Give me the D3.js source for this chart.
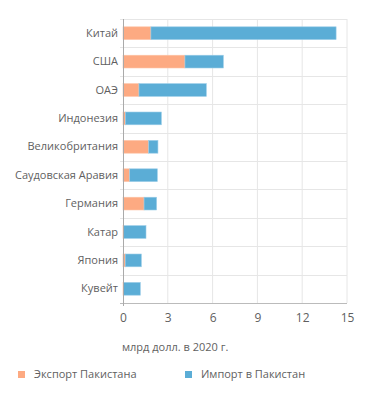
<!DOCTYPE html>
<html>
<head>
<meta charset="utf-8">
<script src="https://cdn.jsdelivr.net/npm/d3@7"></script>
<style>
  body { margin: 0; background: #fff; }
  text { font-family: "Open Sans", sans-serif; fill: #5f5f5f; }
</style>
</head>
<body>
<script>
var countries = ["Китай", "США", "ОАЭ", "Индонезия", "Великобритания",
                 "Саудовская Аравия", "Германия", "Катар", "Япония", "Кувейт"];
var exports = [1.87, 4.15, 1.07, 0.16, 1.72, 0.45, 1.41, 0.05, 0.15, 0.03];
var imports = [12.4, 2.57, 4.51, 2.41, 0.62, 1.85, 0.84, 1.49, 1.08, 1.13];
var ticks = [0, 3, 6, 9, 12, 15];
var seriesNames = ["Экспорт Пакистана", "Импорт в Пакистан"];
var colors = ["#fdaa82", "#5badd6"];

var width = 371,
    height = 397;
var margin = {top: 19, right: 24, bottom: 94, left: 123};

var svg = d3.select("body").append("svg")
    .attr("width", width)
    .attr("height", height);

var x = d3.scaleLinear()
    .domain([0, 15])
    .range([margin.left, width - margin.right]);

var y = d3.scaleBand()
    .domain(countries)
    .range([margin.top, height - margin.bottom])
    .paddingInner(0.55)
    .paddingOuter(0.275);

var step = y.step();

// grid
var grid = svg.append("g");
grid.selectAll("line.v")
    .data(ticks.slice(1))
    .enter().append("line")
    .attr("x1", function(d) { return x(d); })
    .attr("x2", function(d) { return x(d); })
    .attr("y1", margin.top)
    .attr("y2", height - margin.bottom)
    .attr("stroke", "#e6e6e6");
grid.selectAll("line.h")
    .data(countries.slice(1))
    .enter().append("line")
    .attr("x1", margin.left - 3)
    .attr("x2", x(15))
    .attr("y1", function(d) { return Math.round(y(d) - step * 0.275) + 0.5; })
    .attr("y2", function(d) { return Math.round(y(d) - step * 0.275) + 0.5; })
    .attr("stroke", "#e6e6e6");
grid.append("line")
    .attr("x1", margin.left - 3).attr("x2", x(15))
    .attr("y1", margin.top + 0.5).attr("y2", margin.top + 0.5)
    .attr("stroke", "#e6e6e6");

var data = countries.map(function(c, i) {
    return {name: c, ex: exports[i], im: imports[i]};
});

// bars
var rows = svg.append("g").selectAll("g")
    .data(data)
    .enter().append("g");
rows.append("rect")
    .attr("x", x(0))
    .attr("y", function(d) { return y(d.name); })
    .attr("height", y.bandwidth())
    .attr("width", function(d) { return x(d.ex) - x(0); })
    .attr("fill", colors[0])
    .attr("stroke", "#fdc4a8")
    .attr("stroke-width", 0.6);
rows.append("rect")
    .attr("x", function(d) { return x(d.ex); })
    .attr("y", function(d) { return y(d.name); })
    .attr("height", y.bandwidth())
    .attr("width", function(d) { return x(d.ex + d.im) - x(d.ex); })
    .attr("fill", colors[1])
    .attr("stroke", "#9ccde8")
    .attr("stroke-width", 0.6);

// axes
var xAxis = d3.axisBottom(x).tickValues(ticks).tickSize(0).tickPadding(10);
var gx = svg.append("g")
    .attr("transform", "translate(0," + (height - margin.bottom) + ")")
    .call(xAxis);
gx.select(".domain").remove();
gx.append("line")
    .attr("x1", margin.left - 3).attr("x2", x(15))
    .attr("y1", 0.5).attr("y2", 0.5)
    .attr("stroke", "#bbb");
gx.selectAll(".tick text")
    .style("font-size", "12px")
    .style("font-family", "Open Sans, sans-serif")
    .attr("fill", "#666");

var yAxis = d3.axisLeft(y).tickSize(0).tickPadding(5);
var gy = svg.append("g")
    .attr("transform", "translate(" + margin.left + ",0)")
    .call(yAxis);
gy.select(".domain").remove();
gy.append("line")
    .attr("x1", 0.5).attr("x2", 0.5)
    .attr("y1", margin.top).attr("y2", height - margin.bottom + 3)
    .attr("stroke", "#aaa");
gy.selectAll(".tick text")
    .style("font-size", "11px")
    .style("font-family", "Open Sans, sans-serif")
    .attr("fill", "#5f5f5f");

svg.append("text")
    .attr("x", margin.left - 1)
    .attr("y", 351)
    .style("font-size", "11px")
    .text("млрд долл. в 2020 г.");

// legend
var legend = svg.append("g").selectAll("g")
    .data(seriesNames)
    .enter().append("g")
    .attr("transform", function(d, i) { return "translate(" + (i ? 185 : 18) + ",371)"; });
legend.append("rect")
    .attr("width", 7).attr("height", 7)
    .attr("fill", function(d, i) { return colors[i]; });
legend.append("text")
    .attr("x", 16)
    .attr("y", 7)
    .style("font-size", "11px")
    .text(function(d) { return d; });
</script>
</body>
</html>
